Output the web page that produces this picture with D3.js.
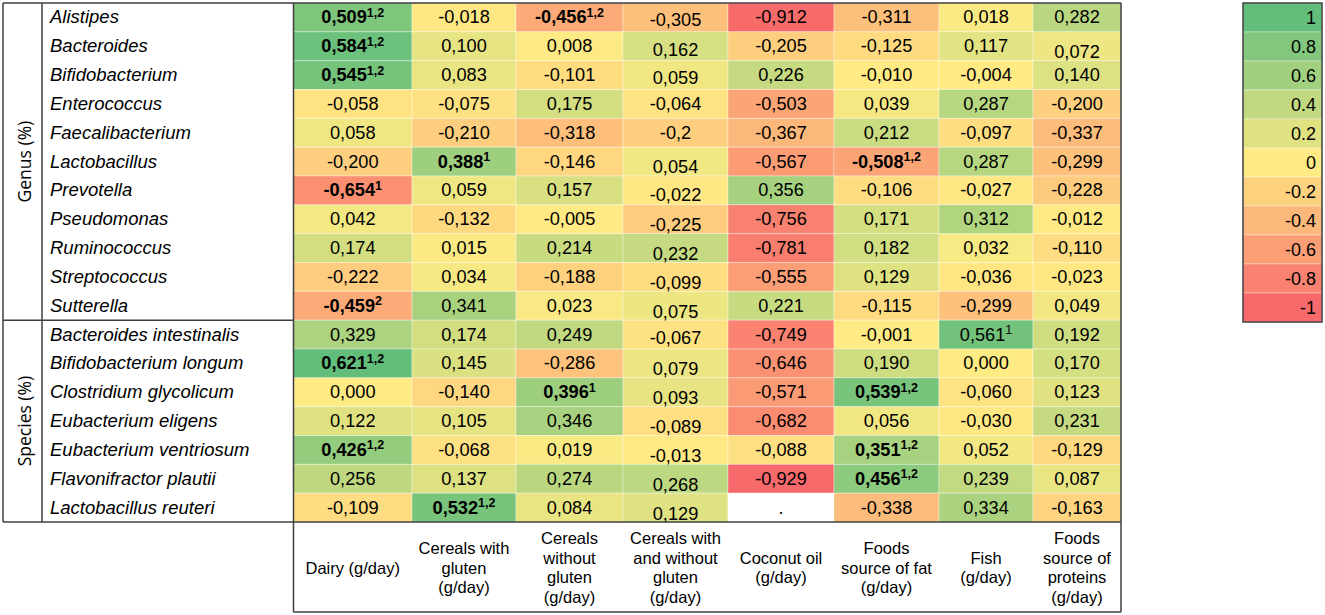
<!DOCTYPE html>
<html>
<head>
<meta charset="utf-8">
<script src="https://cdn.jsdelivr.net/npm/d3@7"></script>
<style>
  html, body { margin: 0; padding: 0; background: #ffffff; }
  svg { display: block; }
</style>
</head>
<body>
<svg id="chart" width="1325" height="615"></svg>
<script>
// ---------------- DATA ----------------
const genusRows = ["Alistipes","Bacteroides","Bifidobacterium","Enterococcus","Faecalibacterium","Lactobacillus","Prevotella","Pseudomonas","Ruminococcus","Streptococcus","Sutterella"];
const speciesRows = ["Bacteroides intestinalis","Bifidobacterium longum","Clostridium glycolicum","Eubacterium eligens","Eubacterium ventriosum","Flavonifractor plautii","Lactobacillus reuteri"];
const groupLabels = ["Genus (%)","Species (%)"];

const columns = ["Dairy","Cereals with gluten","Cereals without gluten","Cereals with and without gluten","Coconut oil","Foods source of fat","Fish","Foods source of proteins"];
const columnLabels = [
  ["Dairy (g/day)"],
  ["Cereals with","gluten","(g/day)"],
  ["Cereals","without","gluten","(g/day)"],
  ["Cereals with","and without","gluten","(g/day)"],
  ["Coconut oil","(g/day)"],
  ["Foods","source of fat","(g/day)"],
  ["Fish","(g/day)"],
  ["Foods","source of","proteins","(g/day)"]
];

// values per column, rows in order genus then species ("." = missing)
const dairy           = ["0,509","0,584","0,545","-0,058","0,058","-0,200","-0,654","0,042","0,174","-0,222","-0,459","0,329","0,621","0,000","0,122","0,426","0,256","-0,109"];
const cerealsGluten   = ["-0,018","0,100","0,083","-0,075","-0,210","0,388","0,059","-0,132","0,015","0,034","0,341","0,174","0,145","-0,140","0,105","-0,068","0,137","0,532"];
const cerealsNoGluten = ["-0,456","0,008","-0,101","0,175","-0,318","-0,146","0,157","-0,005","0,214","-0,188","0,023","0,249","-0,286","0,396","0,346","0,019","0,274","0,084"];
const cerealsBoth     = ["-0,305","0,162","0,059","-0,064","-0,2","0,054","-0,022","-0,225","0,232","-0,099","0,075","-0,067","0,079","0,093","-0,089","-0,013","0,268","0,129"];
const coconutOil      = ["-0,912","-0,205","0,226","-0,503","-0,367","-0,567","0,356","-0,756","-0,781","-0,555","0,221","-0,749","-0,646","-0,571","-0,682","-0,088","-0,929","."];
const foodsFat        = ["-0,311","-0,125","-0,010","0,039","0,212","-0,508","-0,106","0,171","0,182","0,129","-0,115","-0,001","0,190","0,539","0,056","0,351","0,456","-0,338"];
const fish            = ["0,018","0,117","-0,004","0,287","-0,097","0,287","-0,027","0,312","0,032","-0,036","-0,299","0,561","0,000","-0,060","-0,030","0,052","0,239","0,334"];
const foodsProteins   = ["0,282","0,072","0,140","-0,200","-0,337","-0,299","-0,228","-0,012","-0,110","-0,023","0,049","0,192","0,170","0,123","0,231","-0,129","0,087","-0,163"];
const seriesValues = [dairy, cerealsGluten, cerealsNoGluten, cerealsBoth, coconutOil, foodsFat, fish, foodsProteins];

// significance marks: [row index, column index, superscript, bold]
const significance = [
  [0,0,"1,2",true],[0,2,"1,2",true],[1,0,"1,2",true],[2,0,"1,2",true],
  [5,1,"1",true],[5,5,"1,2",true],[6,0,"1",true],[10,0,"2",true],
  [11,6,"1",false],[12,0,"1,2",true],[13,2,"1",true],[13,5,"1,2",true],
  [15,0,"1,2",true],[15,5,"1,2",true],[16,5,"1,2",true],[17,1,"1,2",true]
];

const legendTicks = ["1","0.8","0.6","0.4","0.2","0","-0.2","-0.4","-0.6","-0.8","-1"];

// ---------------- LAYOUT / STYLE ----------------
const svg = d3.select("#chart");
const FONT = "'Liberation Sans', Arial, sans-serif";
const lineColor = "#3f3f3f";
const tableTop = 3, tableBottom = 522, headerBottom = 612;
const tableLeft = 3, groupRight = 42, labelRight = 293.5, tableRight = 1121;
const colEdges = [293.5, 412, 516, 623, 728, 834, 939, 1033, 1121];
// text offsets (style quirk of the original table)
const lowered = {"0|3":3,"1|3":4,"2|3":3,"5|3":5,"6|3":5,"7|3":6,"8|3":6,"9|3":6,"10|3":6,"11|3":3,"12|3":6,"13|3":6,"14|3":6,"15|3":6,"16|3":6,"17|3":6,"1|7":6};

const rows = genusRows.concat(speciesRows);
const y = d3.scaleBand().domain(d3.range(rows.length)).range([tableTop, tableBottom]).padding(0);
const xStart = d3.scaleOrdinal().domain(d3.range(columns.length)).range(colEdges.slice(0, -1));
const xEnd = d3.scaleOrdinal().domain(d3.range(columns.length)).range(colEdges.slice(1));

const parse = s => s === "." ? null : +s.replace(",", ".");
const cells = [];
seriesValues.forEach((col, ci) => col.forEach((txt, ri) => cells.push({ri, ci, txt, v: parse(txt)})));
const allVals = cells.filter(d => d.v !== null).map(d => d.v);
const color = d3.scaleLinear()
  .domain([d3.min(allVals), 0, d3.max(allVals)])
  .range(["#F8696B", "#FFEB84", "#63BE7B"])
  .interpolate(d3.interpolateRgb);

const sigMap = {};
significance.forEach(([r, c, s, b]) => sigMap[r + "|" + c] = {s, b});

// cells
svg.append("g").selectAll("rect").data(cells).join("rect")
  .attr("x", d => xStart(d.ci))
  .attr("y", d => y(d.ri))
  .attr("width", d => xEnd(d.ci) - xStart(d.ci))
  .attr("height", y.bandwidth())
  .attr("fill", d => d.v === null ? "#ffffff" : color(d.v))
  .attr("stroke", "#ffffff").attr("stroke-opacity", 0.35).attr("stroke-width", 1);

// cell texts
const tg = svg.append("g").attr("font-family", FONT).attr("font-size", 18.2).attr("fill", "#000");
cells.forEach(d => {
  const key = d.ri + "|" + d.ci;
  const sig = sigMap[key];
  const cx = (xStart(d.ci) + xEnd(d.ci)) / 2;
  const cy = y(d.ri) + y.bandwidth() / 2 + 6 + (lowered[key] || 0);
  const t = tg.append("text").attr("x", cx).attr("y", cy).attr("text-anchor", "middle");
  t.append("tspan").text(d.txt).attr("font-weight", sig && sig.b ? "bold" : "normal");
  if (sig) {
    t.append("tspan").text(sig.s).attr("font-size", 12.5).attr("dy", -6.5)
      .attr("font-weight", sig.b ? "bold" : "normal");
  }
});

// row labels
svg.append("g").selectAll("text").data(rows).join("text")
  .attr("x", 50)
  .attr("y", (d, i) => y(i) + y.bandwidth() / 2 + 6)
  .attr("font-family", FONT).attr("font-size", 18.5).attr("font-style", "italic")
  .attr("fill", "#000")
  .text(d => d);

// group labels
const groupY = [
  (y(0) + y(genusRows.length - 1) + y.bandwidth()) / 2,
  (y(genusRows.length) + y(rows.length - 1) + y.bandwidth()) / 2
];
svg.append("g").selectAll("text").data(groupLabels).join("text")
  .attr("transform", (d, i) => `translate(${(tableLeft + groupRight) / 2 + 1},${groupY[i]}) rotate(-90)`)
  .attr("text-anchor", "middle").attr("dominant-baseline", "central")
  .attr("font-family", "'Open Sans', 'Noto Sans', sans-serif").attr("font-size", 17.5)
  .attr("fill", "#000")
  .text(d => d);

// column header labels
const hg = svg.append("g").attr("font-family", FONT).attr("font-size", 16.5).attr("fill", "#000");
const headerMid = (tableBottom + headerBottom) / 2 + 1;
const lh = 19.5;
columnLabels.forEach((lines, ci) => {
  const cx = (xStart(ci) + xEnd(ci)) / 2;
  const t = hg.append("text").attr("text-anchor", "middle");
  lines.forEach((ln, k) => {
    t.append("tspan").attr("x", cx)
      .attr("y", headerMid + (k - (lines.length - 1) / 2) * lh + 5.5)
      .text(ln);
  });
});

// frame lines
const lg = svg.append("g").attr("stroke", lineColor).attr("stroke-width", 1.5).attr("fill", "none");
const seg = (x1, y1, x2, y2) => lg.append("line").attr("x1", x1).attr("y1", y1).attr("x2", x2).attr("y2", y2);
const sepY = y(genusRows.length);
seg(tableLeft, tableTop, tableRight, tableTop);
seg(tableLeft, tableBottom, tableRight, tableBottom);
seg(tableLeft, tableTop, tableLeft, tableBottom);
seg(groupRight, tableTop, groupRight, tableBottom);
seg(labelRight, tableTop, labelRight, headerBottom);
seg(tableRight, tableTop, tableRight, headerBottom);
seg(labelRight, headerBottom, tableRight, headerBottom);
seg(tableLeft, sepY, labelRight, sepY);

// legend
const legX = 1243, legW = 79, legTop = 3, legBottom = 322;
const legColor = d3.scaleLinear().domain([-1, 0, 1]).range(["#F8696B", "#FFEB84", "#63BE7B"]);
const ly = d3.scaleBand().domain(legendTicks).range([legTop, legBottom]).padding(0);
const legend = svg.append("g");
legend.selectAll("rect").data(legendTicks).join("rect")
  .attr("x", legX).attr("y", d => ly(d))
  .attr("width", legW).attr("height", ly.bandwidth())
  .attr("fill", d => legColor(+d))
  .attr("stroke", "#ffffff").attr("stroke-opacity", 0.35);
legend.selectAll("text").data(legendTicks).join("text")
  .attr("x", legX + legW - 6)
  .attr("y", d => ly(d) + ly.bandwidth() / 2 + 6)
  .attr("text-anchor", "end")
  .attr("font-family", FONT).attr("font-size", 18).attr("fill", "#000")
  .text(d => d);
legend.append("rect").attr("x", legX).attr("y", legTop).attr("width", legW).attr("height", legBottom - legTop)
  .attr("fill", "none").attr("stroke", lineColor).attr("stroke-width", 1.5);
</script>
</body>
</html>
